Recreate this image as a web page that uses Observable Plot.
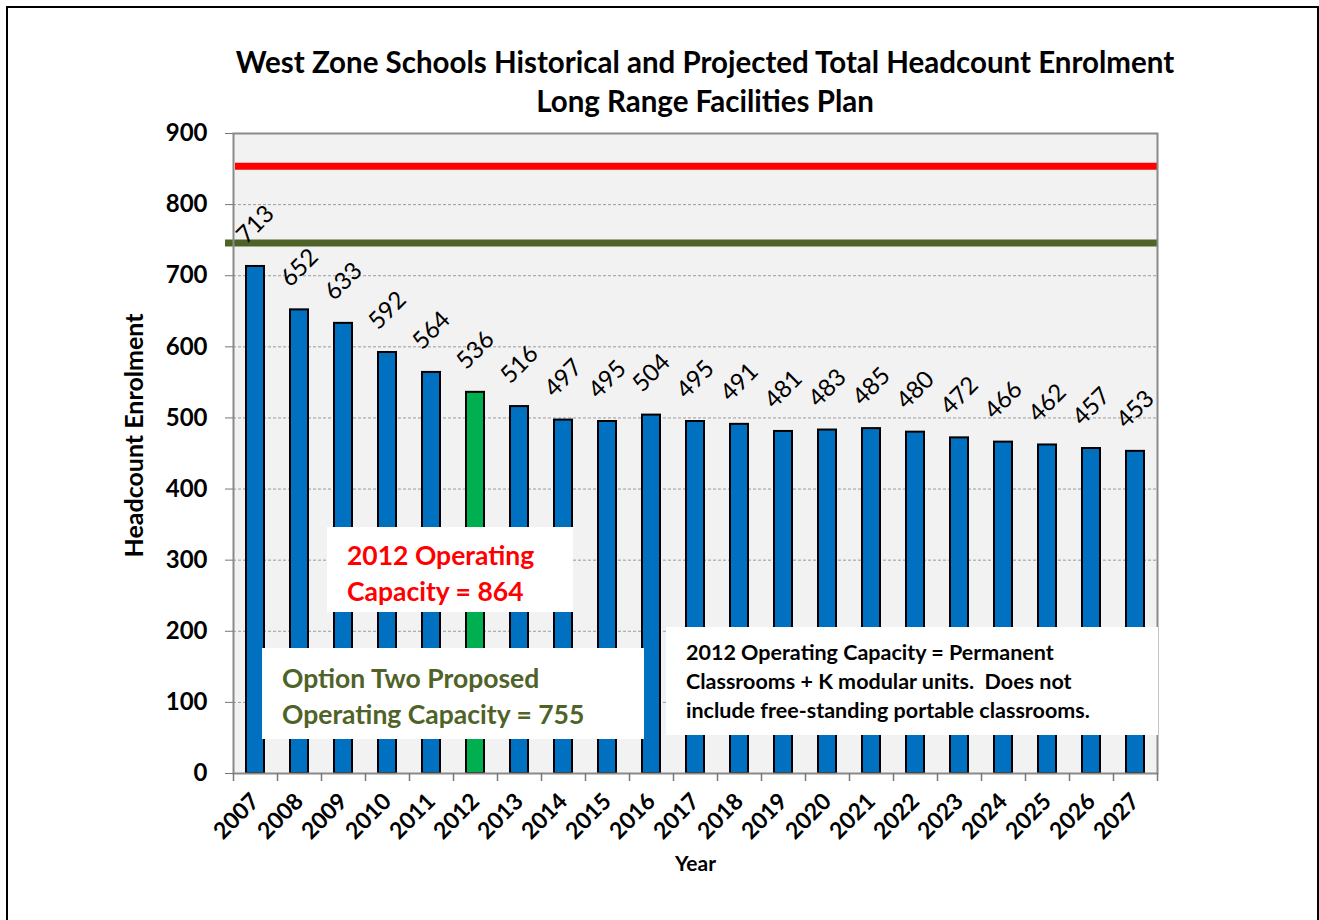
<!DOCTYPE html>
<html>
<head>
<meta charset="utf-8">
<script src="https://cdn.jsdelivr.net/npm/d3@7"></script>
<script src="https://cdn.jsdelivr.net/npm/@observablehq/plot@0.6"></script>
<style>
  html, body { margin: 0; padding: 0; background: #fff; }
  body { font-family: Lato, "Open Sans", sans-serif; }
  #wrap { position: relative; width: 1319px; height: 920px; overflow: hidden; }
  #border { position: absolute; left: 6px; top: 6px; width: 1309px; height: 940px; border: 2px solid #000; }
  #chart { position: absolute; left: 0; top: 0; }
  .title { position: absolute; left: 0; width: 1410px; text-align: center; font-weight: bold; font-size: 29.5px; color: #000; white-space: nowrap; }
  .box { position: absolute; background: #fff; font-weight: bold; white-space: nowrap; box-sizing: border-box; }
</style>
</head>
<body>
<div id="wrap">
  <div id="border"></div>
  <div id="chart"></div>
  <div class="title" style="top:44px; line-height:36px;">West Zone Schools Historical and Projected Total Headcount Enrolment</div>
  <div class="title" style="top:83px; line-height:36px;">Long Range Facilities Plan</div>
  <div class="box" style="left:327px; top:527px; width:246px; height:85px; padding:10px 0 0 20px; color:#ff0000; font-size:26.5px; line-height:36px;">2012 Operating<br>Capacity = 864</div>
  <div class="box" style="left:262px; top:648px; width:382px; height:91px; padding:12px 0 0 20px; color:#4f6228; font-size:26.5px; line-height:36px;">Option Two Proposed<br>Operating Capacity = 755</div>
  <div class="box" style="left:666px; top:627px; width:492px; height:108px; padding:11px 0 0 20px; color:#000; font-size:21.5px; line-height:29px;">2012 Operating Capacity = Permanent<br>Classrooms + K modular units.&nbsp; Does not<br>include free-standing portable classrooms.</div>
</div>
<script>
const years = ["2007","2008","2009","2010","2011","2012","2013","2014","2015","2016","2017","2018","2019","2020","2021","2022","2023","2024","2025","2026","2027"];
const enrolment = [713,652,633,592,564,536,516,497,495,504,495,491,481,483,485,480,472,466,462,457,453];
const highlightYear = "2012";
const capacity2012Line = 854;
const optionTwoLine = 746;
const yTicks = [0,100,200,300,400,500,600,700,800,900];
const gridValues = [100,200,300,400,500,600,700,800];

const data = years.map((y, i) => ({year: y, value: enrolment[i]}));

const W = 1319, H = 920;
const mL = 233, mR = 162, mT = 133, mB = 147;
const step = (W - mL - mR) / years.length;

const chart = Plot.plot({
  width: W,
  height: H,
  marginLeft: mL,
  marginRight: mR,
  marginTop: mT,
  marginBottom: mB,
  style: {fontFamily: "Lato, 'Open Sans', sans-serif", background: "transparent", overflow: "visible"},
  x: {domain: years, paddingInner: 0.58, paddingOuter: 0.29},
  y: {domain: [0, 900]},
  marks: [
    Plot.frame({fill: "#f2f2f2", stroke: null}),
    Plot.ruleY(gridValues, {stroke: "#9a9a9a", strokeWidth: 1, strokeDasharray: "3,2"}),
    Plot.ruleY([capacity2012Line], {stroke: "#ff0000", strokeWidth: 7, insetLeft: 2}),
    Plot.ruleY([optionTwoLine], {stroke: "#4f6228", strokeWidth: 7, insetLeft: -8}),
    Plot.barY(data, {x: "year", y: "value", fill: d => d.year === highlightYear ? "#00b050" : "#0070c0", stroke: "#000", strokeWidth: 2}),
    Plot.text(data, {x: "year", y: "value", text: d => String(d.value), rotate: -45, dy: -42, fontSize: 24, fill: "#000", textAnchor: "middle", lineAnchor: "middle"}),
    Plot.frame({stroke: "#8a8a8a", strokeWidth: 2, fill: null}),
    Plot.axisY({ticks: yTicks, tickSize: 8, tickPadding: 18, fontSize: 24, fontWeight: "bold", stroke: "#777", fill: "#000", label: null, tickFormat: d => String(d)}),
    Plot.ruleX(years, {x: d => d, y1: 0, y2: 0, insetTop: 8, dx: -step / 2, stroke: "#777", strokeWidth: 1.5}),
    Plot.ruleX([years[years.length - 1]], {x: d => d, y1: 0, y2: 0, insetTop: 8, dx: step / 2, stroke: "#777", strokeWidth: 1.5}),
    Plot.axisX({tickSize: 0, tickPadding: 24, tickRotate: -45, fontSize: 23, fontWeight: "bold", fill: "#000", label: null}),
    Plot.text(["Headcount Enrolment"], {frameAnchor: "left", dx: -99, dy: -18, rotate: -90, textAnchor: "middle", lineAnchor: "middle", fontSize: 25, fontWeight: "bold", fill: "#000"}),
    Plot.text(["Year"], {frameAnchor: "bottom", dy: 97, textAnchor: "middle", fontSize: 21, fontWeight: "bold", fill: "#000"})
  ]
});
document.getElementById("chart").appendChild(chart);
</script>
</body>
</html>
